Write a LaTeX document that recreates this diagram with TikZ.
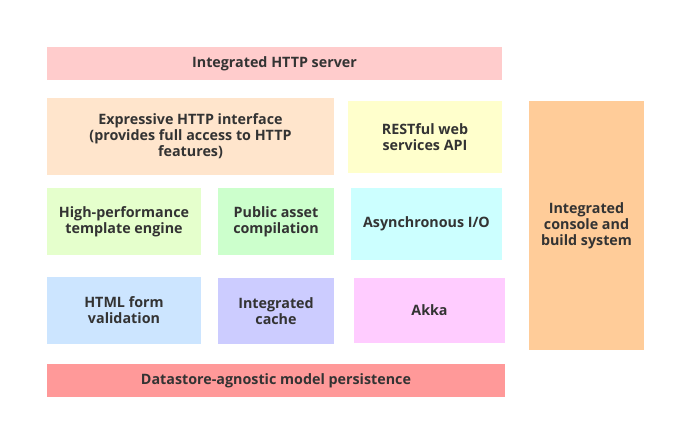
\documentclass[tikz,border=0pt]{standalone}
\usepackage{fontspec}
\setmainfont{Open Sans}
\begin{document}
\begin{tikzpicture}[x=1pt,y=-1pt,
  blk/.style={draw=none,inner sep=0pt,align=center,text=black!80,
    font=\bfseries\fontsize{14.3}{16}\selectfont}]
\useasboundingbox[fill=white] (0,0) rectangle (675,428);
\definecolor{cserver}{HTML}{FFCCCC}
\definecolor{cexpr}{HTML}{FFE5CC}
\definecolor{crest}{HTML}{FFFFCC}
\definecolor{chp}{HTML}{E5FFCC}
\definecolor{cpub}{HTML}{CCFFCC}
\definecolor{casync}{HTML}{CCFFFF}
\definecolor{chtml}{HTML}{CCE5FF}
\definecolor{ccache}{HTML}{CCCCFF}
\definecolor{cakka}{HTML}{FFCCFF}
\definecolor{ccons}{HTML}{FFCC99}
\definecolor{cdata}{HTML}{FF9999}
\node[blk,fill=cserver,minimum width=455pt,minimum height=33pt] (server) at (274.5,63.5) {Integrated HTTP server};
\node[blk,fill=cexpr,minimum width=287pt,minimum height=77pt] (expr) at (190.5,136.5) {Expressive HTTP interface\\(provides full access to HTTP\\features)};
\node[blk,fill=crest,minimum width=154pt,minimum height=72pt] (rest) at (425,137) {RESTful web\\services API};
\node[blk,fill=chp,minimum width=154pt,minimum height=67pt] (hp) at (124,221.5) {High-performance\\template engine};
\node[blk,fill=cpub,minimum width=116pt,minimum height=67pt] (pub) at (276,221.5) {Public asset\\compilation};
\node[blk,fill=casync,minimum width=151pt,minimum height=72pt] (async) at (426.5,224) {Asynchronous I/O};
\node[blk,fill=chtml,minimum width=154pt,minimum height=67pt] (html) at (124,310.5) {HTML form\\validation};
\node[blk,fill=ccache,minimum width=116pt,minimum height=66pt] (cache) at (276,311) {Integrated\\cache};
\node[blk,fill=cakka,minimum width=151pt,minimum height=65pt] (akka) at (429.5,310.5) {Akka};
\node[blk,fill=ccons,minimum width=115pt,minimum height=249pt] (cons) at (586.5,225.5) {Integrated\\console and\\build system};
\node[blk,fill=cdata,minimum width=458pt,minimum height=33pt] (data) at (276,380.5) {Datastore-agnostic model persistence};
\end{tikzpicture}
\end{document}
